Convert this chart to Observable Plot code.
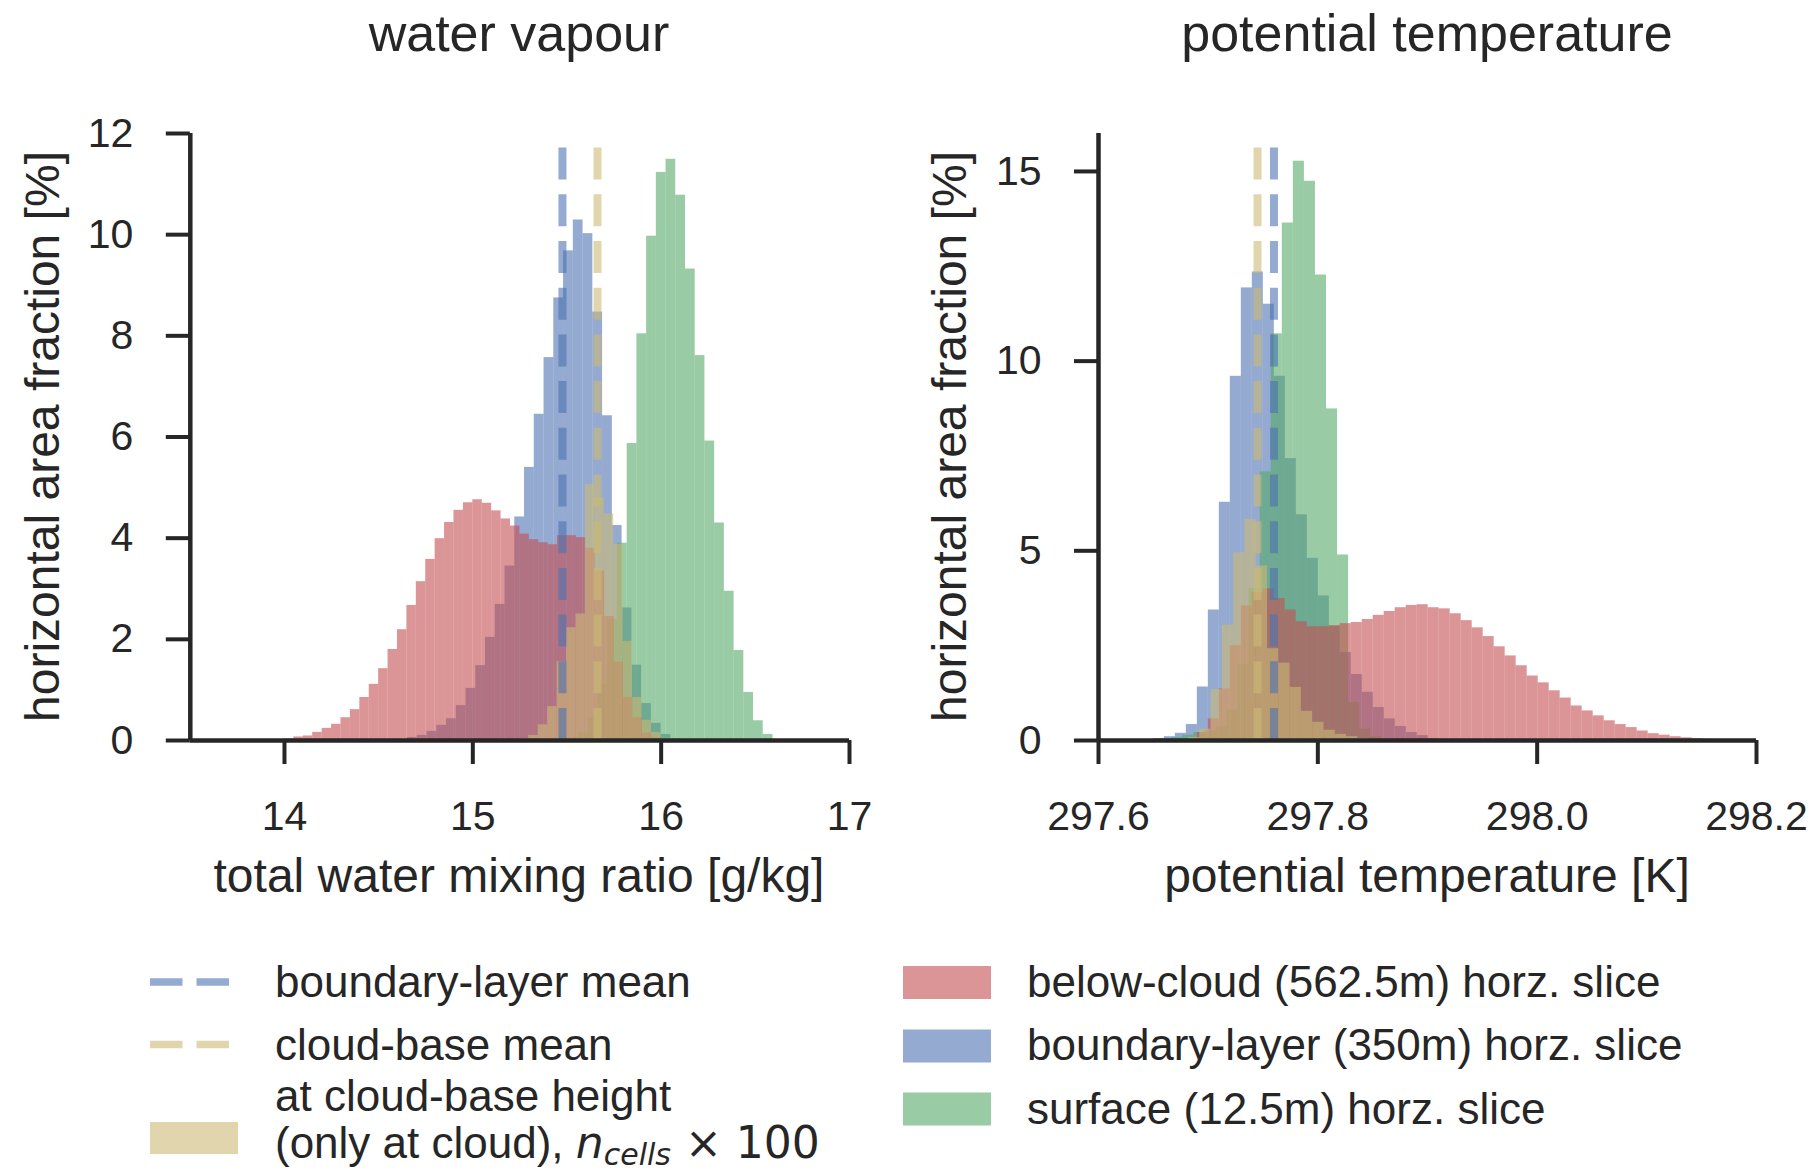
<!DOCTYPE html>
<html>
<head>
<meta charset="utf-8">
<script src="https://cdn.jsdelivr.net/npm/d3@7"></script>
<script src="https://cdn.jsdelivr.net/npm/@observablehq/plot@0.6"></script>
<style>
  html, body { margin: 0; padding: 0; background: #ffffff; }
  #fig { position: relative; width: 1818px; height: 1173px; overflow: hidden; background: #ffffff; }
</style>
</head>
<body>
<div id="fig"></div>
<script>
// ---------------- data ----------------
// tick labels
const qtTicksX = [14, 15, 16, 17];
const qtTicksY = [0, 2, 4, 6, 8, 10, 12];
const thTicksX = [297.6, 297.8, 298.0, 298.2];
const thTicksY = [0, 5, 10, 15];

// water vapour panel: total water mixing ratio [g/kg], horizontal area fraction [%]
const qtBelowCloudStart = 13.95, qtBelowCloudWidth = 0.05;
const qtBelowCloud = [0.01, 0.03, 0.07, 0.09, 0.16, 0.24, 0.32, 0.45, 0.61, 0.85, 1.11, 1.42, 1.80, 2.19, 2.67, 3.14, 3.58, 3.99, 4.31, 4.55, 4.70, 4.76, 4.69, 4.54, 4.38, 4.24, 4.08, 3.97, 3.91, 3.87, 4.05, 4.05, 4.01, 3.80, 3.35, 2.45, 1.55, 0.85, 0.45, 0.15, 0.05];

const qtBoundaryStart = 14.653, qtBoundaryWidth = 0.0518;
const qtBoundary = [0.06, 0.10, 0.18, 0.30, 0.43, 0.69, 1.03, 1.48, 2.04, 2.69, 3.45, 4.42, 5.40, 6.45, 7.57, 8.75, 9.68, 10.29, 10.02, 8.47, 6.42, 4.25, 2.62, 1.49, 0.73, 0.34, 0.12, 0.03];

const qtSurfaceStart = 15.510, qtSurfaceWidth = 0.0516;
const qtSurface = [0.05, 0.15, 0.45, 1.10, 2.40, 3.90, 5.87, 8.04, 9.97, 11.23, 11.49, 10.78, 9.32, 7.61, 5.92, 4.30, 2.95, 1.78, 0.95, 0.39, 0.12];

const qtCloudBaseStart = 15.247, qtCloudBaseWidth = 0.0501;
const qtCloudBase = [0.03, 0.10, 0.31, 0.67, 1.56, 2.23, 2.50, 5.06, 4.80, 4.48, 3.88, 1.96, 0.85, 0.40, 0.16, 0.04];

const qtMeanBoundary = 15.476;
const qtMeanCloudBase = 15.662;

// potential temperature panel [K]
const thBelowCloudStart = 297.690, thBelowCloudWidth = 0.01003;
const thBelowCloud = [0.21, 0.57, 1.36, 2.50, 3.55, 3.90, 4.00, 3.74, 3.44, 3.13, 3.00, 3.00, 3.03, 3.08, 3.11, 3.19, 3.30, 3.40, 3.50, 3.56, 3.58, 3.50, 3.47, 3.34, 3.16, 2.97, 2.74, 2.47, 2.23, 1.97, 1.70, 1.52, 1.31, 1.12, 0.91, 0.78, 0.65, 0.52, 0.42, 0.34, 0.25, 0.18, 0.14, 0.10, 0.07, 0.05, 0.03, 0.02];

const thBoundaryStart = 297.650, thBoundaryWidth = 0.01003;
const thBoundary = [0.05, 0.10, 0.19, 0.42, 1.41, 3.44, 6.28, 9.60, 11.93, 12.35, 11.50, 9.60, 7.43, 5.95, 4.80, 3.81, 3.00, 2.32, 1.74, 1.27, 0.87, 0.57, 0.37, 0.21, 0.13, 0.05];

const thSurfaceStart = 297.6567, thSurfaceWidth = 0.01008;
const thSurface = [0.05, 0.08, 0.14, 0.21, 0.26, 0.35, 0.80, 2.00, 4.00, 7.08, 10.72, 13.64, 15.27, 14.74, 12.27, 8.74, 4.89, 1.00, 0.30, 0.10];

const thCloudBaseStart = 297.682, thCloudBaseWidth = 0.0103;
const thCloudBase = [0.08, 0.30, 1.34, 3.04, 4.95, 5.83, 4.60, 2.42, 2.04, 1.40, 0.77, 0.48, 0.27, 0.16, 0.10, 0.05];

const thMeanBoundary = 297.760;
const thMeanCloudBase = 297.745;

// series colours (seaborn deep)
const colBelowCloud = "#C44E52";
const colBoundary = "#4C72B0";
const colSurface = "#55A868";
const colCloudBase = "#CCB974";
const ink = "#262626";
const FONT = "'Liberation Sans', Arial, Helvetica, sans-serif";

// ---------------- helpers ----------------
function hist(start, width, values) {
  return values.map((v, i) => ({x1: start + i * width, x2: start + (i + 1) * width, y1: 0, y2: v}));
}

const fig = document.getElementById("fig");

function panel({left, width, ml, mr, xDomain, yDomain, xTicks, yTicks, xFmt, series, means}) {
  const height = 900;
  const p = Plot.plot({
    width, height,
    marginLeft: ml, marginRight: mr, marginTop: 133, marginBottom: 160,
    x: {domain: xDomain},
    y: {domain: yDomain},
    style: {fontFamily: FONT, background: "transparent", overflow: "visible", maxWidth: "none", color: ink},
    marks: [
      ...series.map(s => Plot.rect(s.data, {x1: "x1", x2: "x2", y1: "y1", y2: "y2", fill: s.color, fillOpacity: 0.6})),
      ...means.map(m => Plot.ruleX([m.value], {y1: yDomain[0], y2: yDomain[1], stroke: m.color, strokeOpacity: 0.6, strokeWidth: 8, strokeDasharray: "32,14.7"})),
      Plot.axisX({anchor: "bottom", ticks: xTicks, tickFormat: xFmt, tickSize: 24, tickPadding: 36, fontSize: 41, strokeWidth: 4, color: ink, label: null}),
      Plot.axisY({anchor: "left", ticks: yTicks, tickFormat: d => String(d), tickSize: 24, tickPadding: 33, fontSize: 41, strokeWidth: 4, color: ink, label: null}),
      Plot.ruleX([xDomain[0]], {y1: yDomain[0], y2: yDomain[1], stroke: ink, strokeWidth: 4.5}),
      Plot.ruleY([yDomain[0]], {x1: xDomain[0], x2: xDomain[1], stroke: ink, strokeWidth: 4.5})
    ]
  });
  p.style.position = "absolute";
  p.style.left = left + "px";
  p.style.top = "0px";
  fig.appendChild(p);
}

// drawing order: boundary layer, surface, below-cloud, cloud-base
panel({
  left: 0, width: 900, ml: 189.8, mr: 51,
  xDomain: [13.5, 17], yDomain: [0, 12],
  xTicks: qtTicksX, yTicks: qtTicksY, xFmt: d => String(d),
  series: [
    {data: hist(qtBoundaryStart, qtBoundaryWidth, qtBoundary), color: colBoundary},
    {data: hist(qtSurfaceStart, qtSurfaceWidth, qtSurface), color: colSurface},
    {data: hist(qtBelowCloudStart, qtBelowCloudWidth, qtBelowCloud), color: colBelowCloud},
    {data: hist(qtCloudBaseStart, qtCloudBaseWidth, qtCloudBase), color: colCloudBase}
  ],
  means: [
    {value: qtMeanBoundary, color: colBoundary},
    {value: qtMeanCloudBase, color: colCloudBase}
  ]
});

panel({
  left: 900, width: 918, ml: 198, mr: 62,
  xDomain: [297.6, 298.2], yDomain: [0, 16],
  xTicks: thTicksX, yTicks: thTicksY, xFmt: d => d.toFixed(1),
  series: [
    {data: hist(thBoundaryStart, thBoundaryWidth, thBoundary), color: colBoundary},
    {data: hist(thSurfaceStart, thSurfaceWidth, thSurface), color: colSurface},
    {data: hist(thBelowCloudStart, thBelowCloudWidth, thBelowCloud), color: colBelowCloud},
    {data: hist(thCloudBaseStart, thCloudBaseWidth, thCloudBase), color: colCloudBase}
  ],
  means: [
    {value: thMeanCloudBase, color: colCloudBase},
    {value: thMeanBoundary, color: colBoundary}
  ]
});

// ---------------- titles, labels, legend ----------------
const ov = d3.create("svg")
  .attr("width", 1818).attr("height", 1173)
  .style("position", "absolute").style("left", "0px").style("top", "0px")
  .style("pointer-events", "none")
  .attr("font-family", FONT).attr("fill", ink);

function txt(x, y, s, size, anchor = "start", rotate = 0) {
  const t = ov.append("text").attr("x", x).attr("y", y).attr("font-size", size)
    .attr("text-anchor", anchor).text(s);
  if (rotate) t.attr("transform", `rotate(${rotate},${x},${y})`);
  return t;
}

txt(519, 51, "water vapour", 52, "middle");
txt(1427, 51, "potential temperature", 52, "middle");
txt(519, 892, "total water mixing ratio [g/kg]", 48, "middle");
txt(1427, 892, "potential temperature [K]", 48, "middle");
txt(59, 436.5, "horizontal area fraction [%]", 48, "middle", -90);
txt(966, 436.5, "horizontal area fraction [%]", 48, "middle", -90);

// legend swatches
ov.append("line").attr("x1", 150).attr("x2", 229).attr("y1", 982).attr("y2", 982)
  .attr("stroke", colBoundary).attr("stroke-opacity", 0.6).attr("stroke-width", 7.5).attr("stroke-dasharray", "32.5,14");
ov.append("line").attr("x1", 150).attr("x2", 229).attr("y1", 1044.5).attr("y2", 1044.5)
  .attr("stroke", colCloudBase).attr("stroke-opacity", 0.6).attr("stroke-width", 7.5).attr("stroke-dasharray", "32.5,14");
ov.append("rect").attr("x", 150).attr("y", 1122).attr("width", 88).attr("height", 32)
  .attr("fill", colCloudBase).attr("fill-opacity", 0.6);

const rightPatches = [[colBelowCloud, 966], [colBoundary, 1029.5], [colSurface, 1092.5]];
rightPatches.forEach(([c, y]) => ov.append("rect").attr("x", 903).attr("y", y).attr("width", 88).attr("height", 33)
  .attr("fill", c).attr("fill-opacity", 0.6));

txt(275, 996.5, "boundary-layer mean", 44);
txt(275, 1060, "cloud-base mean", 44);
txt(275, 1111, "at cloud-base height", 44);
const t4 = ov.append("text").attr("x", 275).attr("y", 1158).attr("font-size", 44);
t4.append("tspan").text("(only at cloud), ");
t4.append("tspan").attr("font-family", "'DejaVu Sans', sans-serif").attr("font-style", "italic").text("n");
t4.append("tspan").attr("font-family", "'DejaVu Sans', sans-serif").attr("font-style", "italic").attr("font-size", 30).attr("dy", 7).text("cells");
t4.append("tspan").attr("font-family", "'DejaVu Sans', sans-serif").attr("dy", -7).text(" \u00d7 100");

txt(1027, 996.5, "below-cloud (562.5m) horz. slice", 44);
txt(1027, 1060, "boundary-layer (350m) horz. slice", 44);
txt(1027, 1123.5, "surface (12.5m) horz. slice", 44);

fig.appendChild(ov.node());
</script>
</body>
</html>
